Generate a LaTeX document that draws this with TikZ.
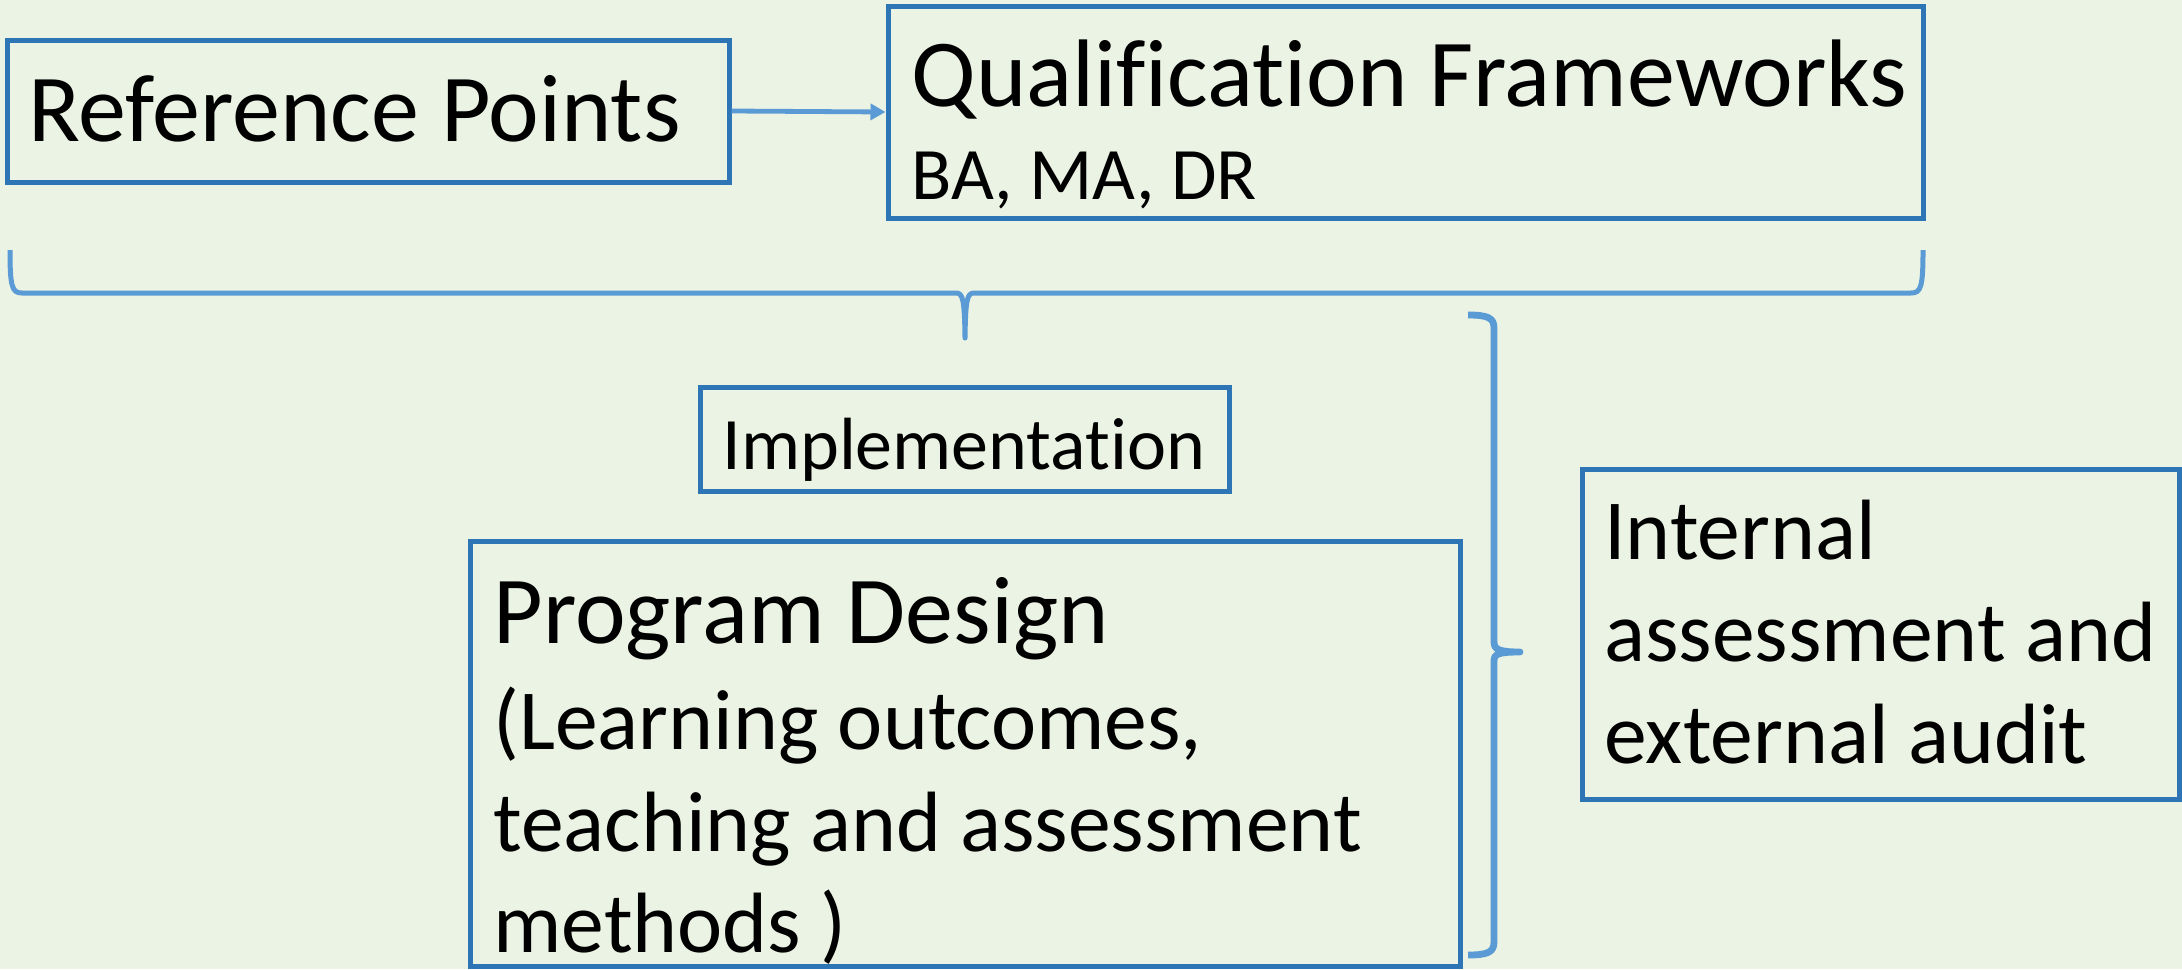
\documentclass[tikz,border=0pt]{standalone}
\usepackage{fontspec}
\setmainfont{Carlito}[Ligatures=CommonOff]
\usetikzlibrary{arrows.meta}
\definecolor{bg}{HTML}{EBF3E4}
\definecolor{boxblue}{HTML}{2E75B6}
\definecolor{lineblue}{HTML}{5B9BD5}
\tikzset{
  box/.style={draw=boxblue, line width=2.5pt, inner sep=0pt, rectangle},
  brace/.style={draw=lineblue, line width=2.5pt, line cap=butt, line join=round},
  thickbrace/.style={brace, line width=3.4pt},
  arrowline/.style={draw=lineblue, line width=2.4pt, -{Triangle[length=7.5pt,width=8pt]}},
  txt/.style={anchor=base west, inner sep=0pt, text=black},
  big/.style={font=\fontsize{48}{56}\selectfont},
  mid/.style={font=\fontsize{42.8}{51}\selectfont},
  small/.style={font=\fontsize{37}{44}\selectfont}
}
\begin{document}
\begin{tikzpicture}[x=0.5pt,y=-0.5pt]
\fill[bg] (0,0) rectangle (2182,969);
\useasboundingbox (0,0) rectangle (2182,969);

% boxes
\node[box, minimum width=361pt, minimum height=71pt] (rp) at (368,111) {};
\node[box, minimum width=517.5pt, minimum height=106pt] (qf) at (1405.5,112) {};
\node[box, minimum width=264.5pt, minimum height=52pt] (impl) at (964.5,439) {};
\node[box, minimum width=495pt, minimum height=212.5pt] (pd) at (965,753.5) {};
\node[box, minimum width=298.5pt, minimum height=165pt] (ia) at (1880.5,634) {};

% texts
\node[txt, big] (rpt) at (28,141) {Reference Points};
\node[txt, big] (qft) at (911,106) {Qualification Frameworks};
\node[txt, small] (qfs) at (911,199) {BA, MA, DR};
\node[txt, small] (implt) at (722,469) {Implementation};
\node[txt, big] (pdt) at (493,643) {Program Design};
\node[txt, mid] (pd1) at (493,749) {(Learning outcomes,};
\node[txt, mid] (pd2) at (493,851) {teaching and assessment};
\node[txt, mid] (pd3) at (493,952) {methods )};
\node[txt, mid] (ia1) at (1604,559) {Internal};
\node[txt, mid] (ia2) at (1604,661) {assessment and};
\node[txt, mid] (ia3) at (1604,763) {external audit};

% arrow
\draw[arrowline] (rp.east) -- (qf.west);

% top brace
\coordinate (tbl) at (10,250);
\coordinate (tbr) at (1923,250);
\coordinate (tbtip) at (965,338);
\draw[brace] (tbl) .. controls (10,287) and (12,293) .. (22,293)
  -- (956,293) .. controls (963,293) and (964.5,300) .. (tbtip)
  .. controls (965.5,300) and (967,293) .. (974,293)
  -- (1911,293) .. controls (1921,293) and (1923,287) .. (tbr);

% right brace
\coordinate (rbt) at (1468,315);
\coordinate (rbb) at (1468,955);
\coordinate (rbtip) at (1520,652);
\draw[thickbrace] (rbt) .. controls (1488,315) and (1494,318) .. (1494,328)
  -- (1494,642) .. controls (1494,649) and (1498,652) .. (rbtip)
  .. controls (1498,652) and (1494,654) .. (1494,661)
  -- (1494,942) .. controls (1494,952) and (1488,955) .. (rbb);
\end{tikzpicture}
\end{document}
